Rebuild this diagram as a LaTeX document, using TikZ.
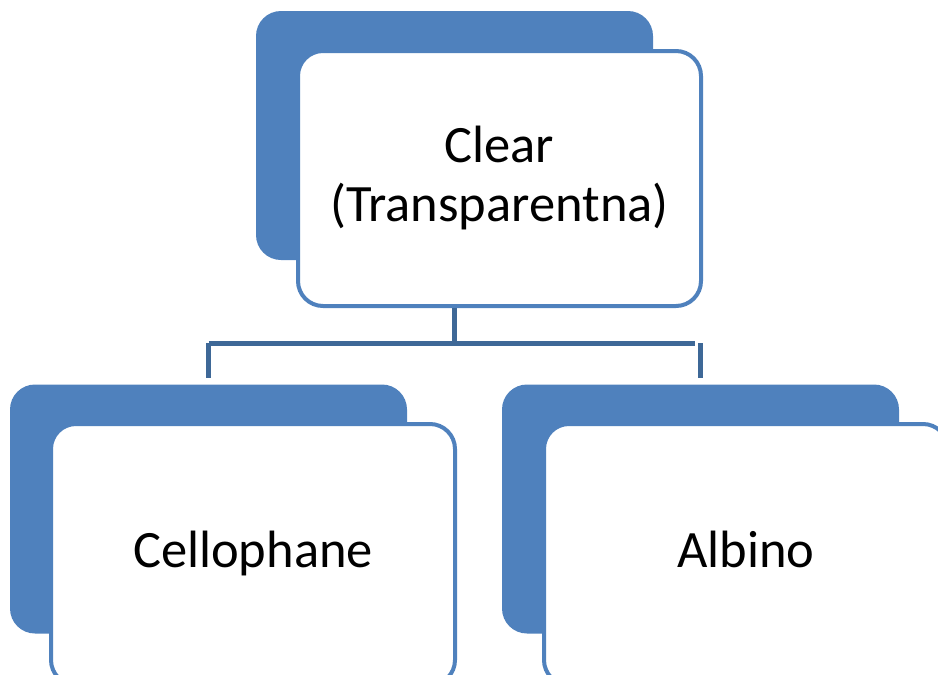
\documentclass[tikz,border=0pt]{standalone}
\usepackage{fontspec}
\setmainfont{Carlito}
\definecolor{boxblue}{HTML}{4F81BD}
\definecolor{connblue}{HTML}{3E6897}
\begin{document}
\begin{tikzpicture}[x=1pt,y=-1pt,
  back/.style={rectangle, rounded corners=25pt, fill=boxblue, draw=none, minimum width=397pt, minimum height=249pt, inner sep=0pt},
  front/.style={rectangle, rounded corners=25pt, fill=white, draw=boxblue, line width=4pt, minimum width=403pt, minimum height=258pt, inner sep=0pt, align=center, text height=36pt, text depth=10pt, font=\fontsize{52.5}{59}\selectfont},
  conn/.style={draw=connblue, line width=5pt}]
\useasboundingbox (0,0) rectangle (938,675);
\clip (0,0) rectangle (938,675);
% top
\node[back] (tb) at (454.5,135.5) {};
\node[front, minimum height=255pt, text height=95pt] (tw) at (499.5,178.5) {Clear\\(Transparentna)};
% bottom left
\node[back] (lb) at (208.5,509) {};
\node[front, minimum width=404pt, minimum height=261pt] (lw) at (253,554.5) {Cellophane};
% bottom right
\node[back] (rb) at (700.5,509) {};
\node[front, minimum width=404pt, minimum height=261pt] (rw) at (746,554.5) {Albino};
% connectors
\coordinate (j) at (455,343);
\draw[conn] (tb.center |- tw.south) -- (tb.center |- j);
\draw[conn, shorten >=6pt] (lb.north |- j) -- (rb.north |- j);
\draw[conn, shorten >=6pt] (lb.north |- j) -- (lb.north);
\draw[conn, shorten >=6pt] (rb.north |- j) -- (rb.north);
\end{tikzpicture}
\end{document}
